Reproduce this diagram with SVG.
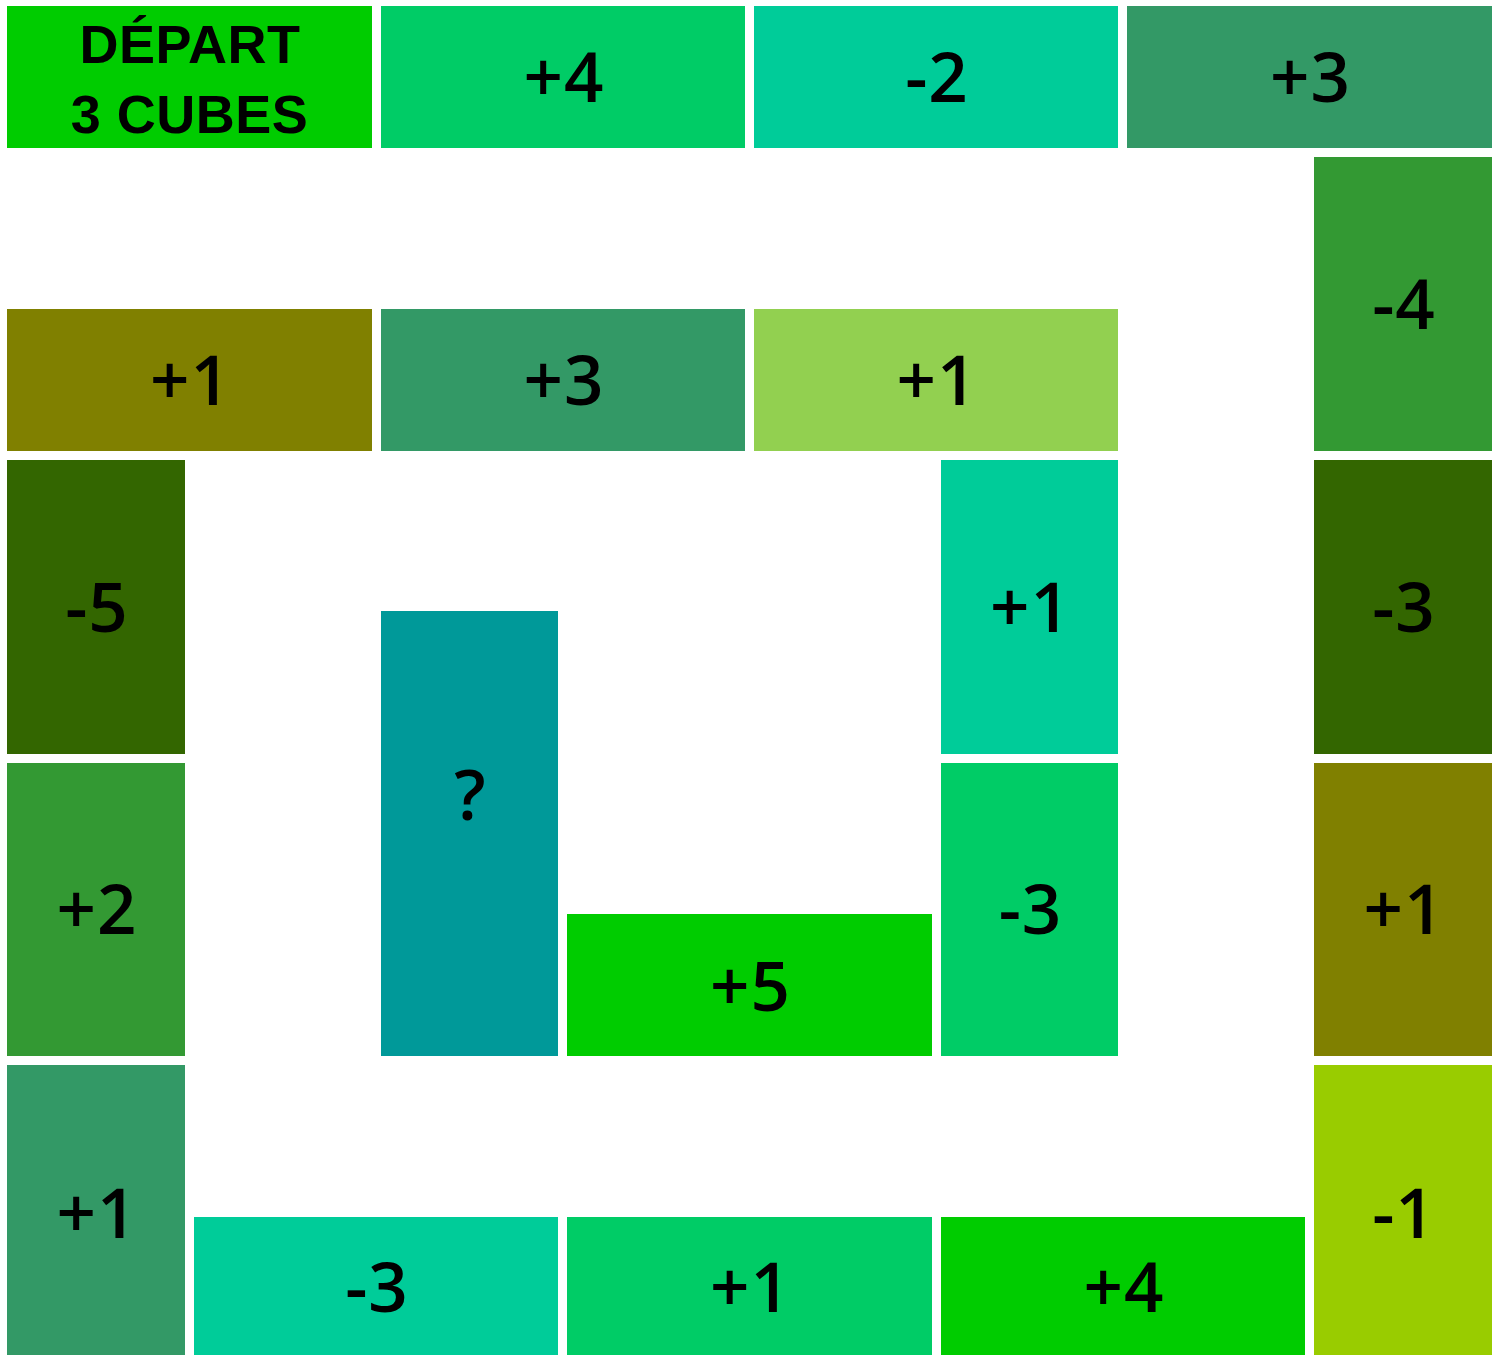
<svg xmlns="http://www.w3.org/2000/svg" width="1503" height="1355" viewBox="0 0 1503 1355">
<style>
.t{font-family:"Open Sans","DejaVu Sans",sans-serif;font-weight:600;font-size:69px;fill:#000;text-anchor:middle;letter-spacing:1px}
.s{font-family:"Liberation Sans","Arial",sans-serif;font-weight:700;font-size:54px;letter-spacing:0.5px}
</style>
<rect width="1503" height="1355" fill="#fff"/>
<g id="depart"><rect x="7" y="6" width="365" height="142" fill="#00CC00"/><text class="t s" x="190" y="63">DÉPART</text><text class="t s" x="189.5" y="133">3 CUBES</text></g>
<g id="t2"><rect x="381" y="6" width="364" height="142" fill="#00CC66"/><text class="t" x="564" y="102">+4</text></g>
<g id="t3"><rect x="754" y="6" width="364" height="142" fill="#00CC99"/><text class="t" x="937" y="102">-2</text></g>
<g id="t4"><rect x="1127" y="6" width="365" height="142" fill="#339966"/><text class="t" x="1310.5" y="102">+3</text></g>
<g id="t5"><rect x="1314" y="157" width="178" height="294" fill="#339933"/><text class="t" x="1404" y="329">-4</text></g>
<g id="t6"><rect x="1314" y="460" width="178" height="294" fill="#336600"/><text class="t" x="1404" y="632">-3</text></g>
<g id="t7"><rect x="1314" y="763" width="178" height="293" fill="#808000"/><text class="t" x="1404" y="934">+1</text></g>
<g id="t8"><rect x="1314" y="1065" width="178" height="293" fill="#99CC00"/><text class="t" x="1404" y="1238">-1</text></g>
<g id="t9"><rect x="941" y="1217" width="364" height="141" fill="#00CC00"/><text class="t" x="1124" y="1312">+4</text></g>
<g id="t10"><rect x="567" y="1217" width="365" height="141" fill="#00CC66"/><text class="t" x="750.5" y="1312">+1</text></g>
<g id="t11"><rect x="194" y="1217" width="364" height="141" fill="#00CC99"/><text class="t" x="377" y="1312">-3</text></g>
<g id="t12"><rect x="7" y="1065" width="178" height="293" fill="#339966"/><text class="t" x="97" y="1238">+1</text></g>
<g id="t13"><rect x="7" y="763" width="178" height="293" fill="#339933"/><text class="t" x="97" y="934">+2</text></g>
<g id="t14"><rect x="7" y="460" width="178" height="294" fill="#336600"/><text class="t" x="97" y="632">-5</text></g>
<g id="t15"><rect x="7" y="309" width="365" height="142" fill="#808000"/><text class="t" x="190.5" y="405">+1</text></g>
<g id="t16"><rect x="381" y="309" width="364" height="142" fill="#339966"/><text class="t" x="564" y="405">+3</text></g>
<g id="t17"><rect x="754" y="309" width="364" height="142" fill="#92D050"/><text class="t" x="937" y="405">+1</text></g>
<g id="t18"><rect x="941" y="460" width="177" height="294" fill="#00CC99"/><text class="t" x="1030.5" y="632">+1</text></g>
<g id="t19"><rect x="941" y="763" width="177" height="293" fill="#00CC66"/><text class="t" x="1030.5" y="934">-3</text></g>
<g id="t20"><rect x="567" y="914" width="365" height="142" fill="#00CC00"/><text class="t" x="750.5" y="1011">+5</text></g>
<g id="t21"><rect x="381" y="611" width="177" height="445" fill="#009999"/><text class="t" x="470.5" y="820" font-weight="700">?</text></g>
<g id="connectors"/>
</svg>
